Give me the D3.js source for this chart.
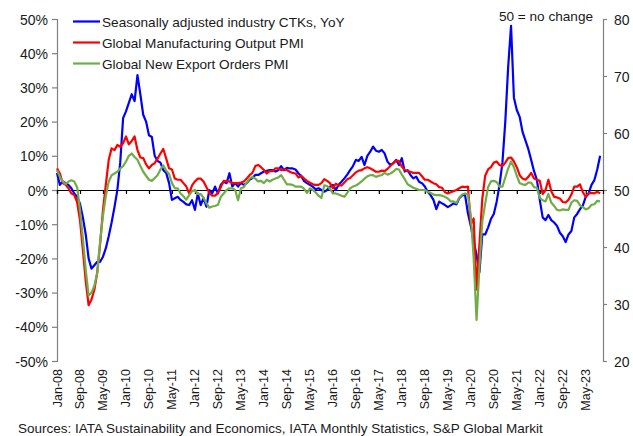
<!DOCTYPE html>
<html>
<head>
<meta charset="utf-8">
<script src="https://cdn.jsdelivr.net/npm/d3@7"></script>
<style>
  body { margin: 0; background: #fff; }
  svg text { font-family: "Liberation Sans", Arial, sans-serif; fill: #1a1a1a; }
</style>
</head>
<body>
<div id="chart"></div>
<script>
// data: monthly, Jan-08 onwards
var ctkYoY = [
  5, 1.5, 2.5, 2, 1.5, 0.5, -1, -2, -4, -8, -13, -20,
  -23, -22, -21, -21, -19.5, -17, -13.5, -9.5, -5, 0, 8, 21,
  23, 25.5, 28, 26, 33.6, 28, 22, 20, 16, 15.5, 10, 8.5,
  8, 5.8, 5, 2, -2.9, -2.4, -2, -2.9, -3.5, -4.2, -4.4, -3,
  -5.8, -1, -4.4, -2.4, -4.9, 0, -1, 1, -1, 1.5, 2.4, 2,
  4.9, 1, 2, 1, 2, 1.5, 2, 3, 3.5, 4.4, 4.4, 4.9,
  5.4, 5.6, 5.8, 5.8, 5.4, 5.8, 7, 5.8, 6.5, 6.3, 6.3, 6,
  4.9, 4, 2.6, 2, 1.5, 1, 0.2, 0.5, 0, -0.5, 0, 1,
  1.5, 0, 1.5, 2.4, 3.4, 4.5, 5.8, 7, 8.8, 8.5, 9.7, 7.3,
  10, 11.2, 12.7, 11.5, 11.2, 11.7, 10.7, 8.3, 7.3, 7.8, 8.8, 7.3,
  9.3, 5.4, 5.8, 4.4, 3.4, 3.9, 2.4, 2, 1, -0.5, -1.5, -2.9,
  -5.6, -3.4, -3.9, -4.4, -5, -4.5, -3.9, -4.2, -2.4, -1.5, -1.5, -6.8,
  -10.5, -15, -19, -24, -13, -13, -11, -8.5, -7, -3.4, 1.5, 8,
  20, 36, 48, 27, 23.4, 21.4, 17, 14.5, 12, 8.8, 5.5, 3,
  -2.9, -8, -8.8, -7.3, -8.8, -9.5, -10.5, -12.5, -13.5, -15.2, -13, -12,
  -8, -7, -5.6, -4.5, -2, -1, 1.5, 2.9, 6, 10
];
var outputPmi = [
  53.8, 52.9, 51.2, 50.9, 50.3, 49.4, 49.1, 47.9, 44.7, 39.5, 34, 29.8,
  30.8, 32.5, 35.5, 40.5, 46.5, 51, 55.3, 57.3, 57, 57.9, 57.6, 58.2,
  59.4, 58, 58.6, 59.4, 57, 55.7, 55.6, 54.5, 53.8, 54.4, 54.7, 55.5,
  56.4, 57.2, 55.5, 53.8, 53.6, 52, 51.8, 51.8, 51.2, 50.6, 49.4, 50.8,
  51.5, 52, 52, 51.5, 50.5, 49.5, 49, 49, 49.5, 50.5, 51.6, 51.5,
  51.5, 51.2, 51.2, 51.2, 51.3, 51.5, 52, 52.6, 53, 54.2, 54.4, 54,
  53.5, 52.9, 53.3, 53.3, 53.8, 53.8, 53.5, 53.6, 53.5, 53.2, 53, 52.9,
  52.2, 52.5, 52, 51.6, 51.3, 51, 50.9, 50.9, 51.2, 51.9, 51.6, 51.2,
  50.3, 51.1, 50.8, 50.8, 51.3, 51.9, 52.1, 52.6, 53.1, 53.4, 53.5, 53.8,
  54, 53.8, 53.5, 53.2, 53.2, 53.4, 53.3, 53.7, 54.2, 54.7, 55.1, 55.1,
  54.1, 53.5, 53.3, 53.2, 53, 53, 53, 52.4, 51.8, 51.8, 51.5, 51.2,
  51, 50.5, 50.4, 49.6, 49.4, 49.6, 49.8, 50, 50.3, 50.6, 50.5, 50.6,
  44, 45, 32.5, 40.5, 48.5, 52.5, 53.6, 54, 54.8, 55, 54.4, 54.2,
  54.8, 55.6, 55.7, 55, 54, 52.6, 52, 51.8, 52.3, 53, 52, 51.8,
  51.6, 49.3, 50, 51.8, 49.8, 48.8, 48.7, 48.5, 47.9, 47.8, 48.3, 49.2,
  50.6, 50.6, 51, 49.6, 48.8, 49.4, 49.5, 49.4, 49.7, 49.4
];
var exportPmi = [
  53.5, 52.3, 51.5, 51, 51.5, 51.7, 51.5, 50.5, 46.5, 41.5, 36, 31.5,
  32, 33.2, 35.5, 41, 45.5, 49, 51.5, 52.6, 52.9, 53.2, 53.8, 54.2,
  55, 56, 56.4, 55.8, 55.3, 54.2, 53.2, 52.5, 51.8, 51.6, 52.1, 52.6,
  53.6, 54.3, 53.4, 52.8, 51.2, 50.3, 50.3, 49.4, 48.9, 48.3, 49.1, 49.8,
  50, 49.3, 49.3, 48.6, 47.7, 46.9, 47.1, 47.2, 47.4, 48.8, 49.4, 50,
  50.3, 50.3, 50, 48.2, 50.3, 50.5, 51.3, 52, 52.3, 52, 51.5, 51.6,
  51.2, 51.8, 51.5, 51.8, 52, 52.2, 52.6, 51.8, 51, 51, 50.9, 50.6,
  50.6, 50.6, 50.2, 49.5, 50.3, 50, 49.6, 49, 48.6, 50.8, 50.7, 50.2,
  49.4, 49.4, 49.2, 49, 48.8, 49.5, 50.3, 50.6, 50.8, 51.1, 51.5, 52,
  52.4, 52.6, 52.6, 52.3, 52.5, 52.6, 53, 52.7, 52.9, 53.2, 53.7, 53.6,
  52.7, 51.9, 51, 50.7, 50.4, 50.2, 50, 50, 50, 49.7, 49.5, 49.2,
  49.1, 49.1, 49, 48.8, 48.5, 48, 48, 47.7, 48.7, 49.2, 49.4, 49.2,
  45.5, 38, 27.2, 36.5, 44.5, 47.6, 50.5, 51.5, 51.6, 51.4, 50.6, 50.6,
  52.2, 53.8, 55, 54, 52.5, 51.2, 51, 50.9, 51.3, 51.3, 50.5, 50.4,
  48.6, 48.2, 48, 49.3, 47.8, 47.2, 46.5, 46.4, 46.6, 46.5, 46.5, 47.8,
  48.2, 48.1, 47.3, 47, 46.6, 46.8, 47.4, 47.5, 48.1, 48
];
var xLabels = ["Jan-08","Sep-08","May-09","Jan-10","Sep-10","May-11","Jan-12","Sep-12",
  "May-13","Jan-14","Sep-14","May-15","Jan-16","Sep-16","May-17","Jan-18","Sep-18",
  "May-19","Jan-20","Sep-20","May-21","Jan-22","Sep-22","May-23"];
var leftTicks = [50, 40, 30, 20, 10, 0, -10, -20, -30, -40, -50];
var rightTicks = [80, 70, 60, 50, 40, 30, 20];
var seriesNames = ["Seasonally adjusted industry CTKs, YoY", "Global Manufacturing Output PMI", "Global New Export Orders PMI"];
var seriesColors = ["#0000ff", "#ff0000", "#70ad47"];

// setup
var w = 633, h = 436;
var svg = d3.select("#chart").append("svg")
  .attr("width", w).attr("height", h);

var x = d3.scaleLinear().domain([0, 190]).range([57, 603]);
var yL = d3.scaleLinear().domain([-50, 50]).range([361, 19]);
var yR = d3.scaleLinear().domain([20, 80]).range([361, 19]);

// left axis
var leftAxis = svg.append("g")
  .attr("transform", "translate(57,0)")
  .call(d3.axisLeft(yL).tickValues(leftTicks).tickSize(5).tickFormat(function(d){ return d + "%"; }));
// right axis
var rightAxis = svg.append("g")
  .attr("transform", "translate(603,0)")
  .call(d3.axisRight(yR).tickValues(rightTicks).tickSize(4).tickFormat(d3.format("d")));
[leftAxis, rightAxis].forEach(function(a){
  a.select(".domain").attr("stroke", "#808080").attr("stroke-width", 1.2);
  a.selectAll(".tick line").attr("stroke", "#808080").attr("stroke-width", 1.2);
  a.selectAll("text").style("font-size", "14px").attr("fill", "#1a1a1a");
});
leftAxis.selectAll("text").attr("x", -9).attr("dy", "0.36em");
rightAxis.selectAll("text").attr("x", 11).attr("dy", "0.36em");

// zero line with month ticks
var xAxis = svg.append("g")
  .attr("transform", "translate(0," + yL(0) + ")")
  .call(d3.axisBottom(x).tickValues(d3.range(0, 190, 8)).tickSize(4).tickFormat(""));
xAxis.select(".domain").attr("stroke", "#000").attr("stroke-width", 1.2);
xAxis.selectAll(".tick line").attr("stroke", "#000").attr("stroke-width", 1.2);

// x labels at the bottom
svg.append("g").selectAll("text")
  .data(xLabels)
  .enter()
  .append("text")
    .attr("transform", function(d, i){ return "translate(" + x(i * 8) + ",369) rotate(-90)"; })
    .attr("text-anchor", "end")
    .attr("dy", "0.36em")
    .style("font-size", "12.5px")
    .text(function(d){ return d; });

// lines
var lineL = d3.line().x(function(d, i){ return x(i); }).y(function(d){ return yL(d); });
var lineR = d3.line().x(function(d, i){ return x(i); }).y(function(d){ return yR(d); });
var paths = [[ctkYoY, lineL], [outputPmi, lineR], [exportPmi, lineR]];
paths.forEach(function(p, k){
  svg.append("path")
    .datum(p[0])
    .attr("d", p[1])
    .attr("fill", "none")
    .attr("stroke", seriesColors[k])
    .attr("stroke-width", 2.2)
    .attr("stroke-linejoin", "round");
});

// legend
var legend = svg.append("g");
seriesNames.forEach(function(name, k){
  var ly = 21.5 + k * 21;
  legend.append("line")
    .attr("x1", 73).attr("x2", 100).attr("y1", ly).attr("y2", ly)
    .attr("stroke", seriesColors[k]).attr("stroke-width", 2.2);
  legend.append("text")
    .attr("x", 102).attr("y", ly + 5)
    .style("font-size", "13.6px")
    .text(name);
});

svg.append("text")
  .attr("x", 593).attr("y", 21)
  .attr("text-anchor", "end")
  .style("font-size", "13.6px")
  .text("50 = no change");

svg.append("text")
  .attr("x", 18).attr("y", 432.5)
  .style("font-size", "13.5px")
  .text("Sources: IATA Sustainability and Economics, IATA Monthly Statistics, S&P Global Markit");
</script>
</body>
</html>
